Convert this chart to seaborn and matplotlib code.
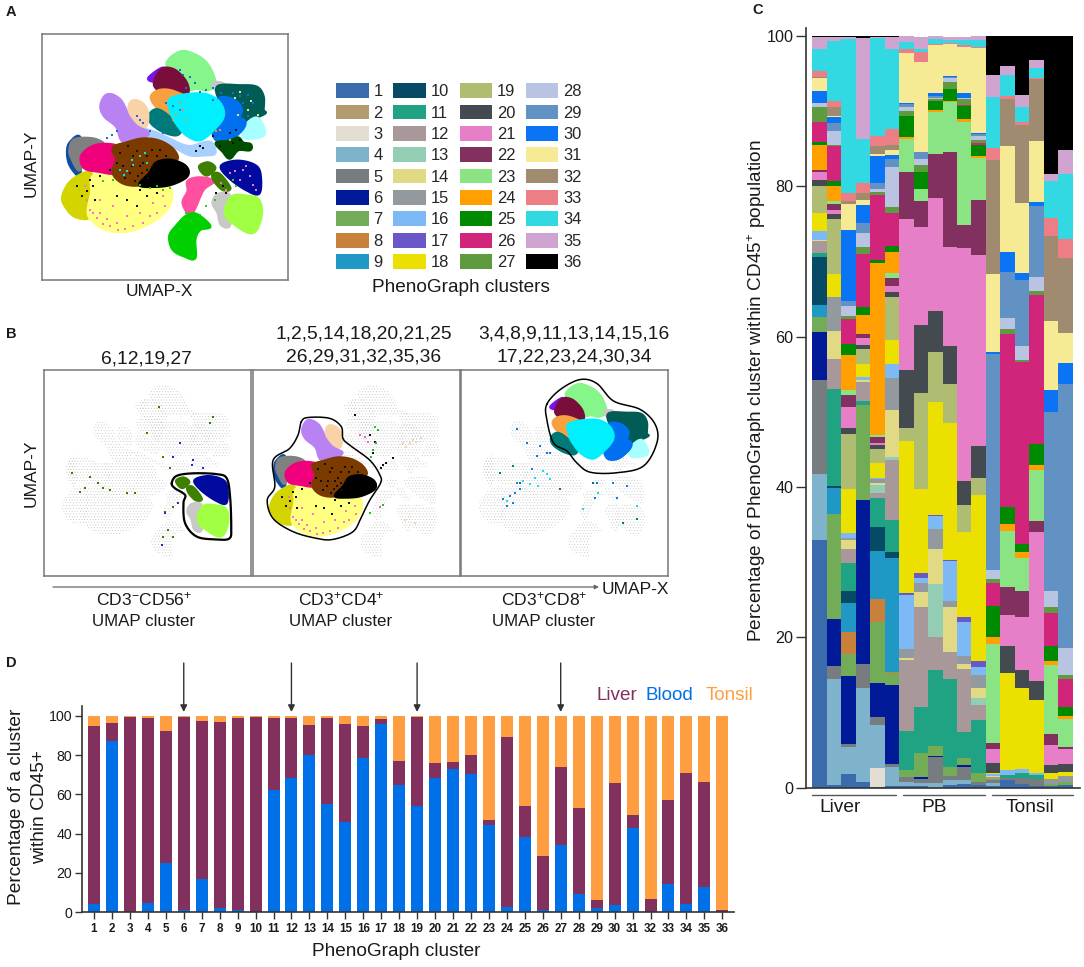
import numpy as np
import pandas as pd
import matplotlib
matplotlib.use('Agg')
import matplotlib.pyplot as plt
from matplotlib.patches import Patch
import seaborn as sns

sns.set_theme(style='ticks')
plt.rcParams['font.family'] = ['Liberation Sans', 'DejaVu Sans']
plt.rcParams['mathtext.fontset'] = 'custom'
plt.rcParams['mathtext.rm'] = 'Liberation Sans'
plt.rcParams['mathtext.default'] = 'regular'
plt.rcParams['hatch.linewidth'] = 0.3

W, H = 1084, 967
INK = '#1a1a1a'

# PhenoGraph cluster colours (legend + panel C)
cluster_ids = list(range(1, 37))
cluster_colors = ['#3A6BAC', '#B39B70', '#E3DED3', '#7FB3CB', '#777C80', '#011A98',
                  '#72AC57', '#C9803A', '#2098C6', '#064A66', '#1FA383', '#A8989A',
                  '#93CEB4', '#E2D985', '#929AA0', '#7DB9F5', '#6A57C8', '#EBE000',
                  '#AFBD72', '#444B50', '#E67FC8', '#813060', '#8BE484', '#FFA000',
                  '#008A00', '#D0257A', '#5E9A40', '#B9C4E2', '#6292C4', '#0A74F5',
                  '#F6EA94', '#A18B70', '#EC7E86', '#32D8E2', '#D0A4D0', '#000000']

# Panel C: upper edge (%) of each cluster's segment, one dict per sample
liver_1 = {1: 32.9, 4: 41.7, 5: 54.2, 6: 60.6, 7: 62.6, 9: 64.2, 10: 70.6, 11: 71.1, 12: 72.7, 14: 72.9,
           16: 74.0, 18: 76.5, 19: 80.0, 20: 80.8, 21: 81.95, 22: 82.2, 24: 85.5, 25: 85.9, 26: 88.6,
           27: 90.6, 28: 91.1, 30: 92.7, 31: 94.4, 32: 94.6, 33: 95.4, 34: 98.2, 35: 99.9, 36: 100}
liver_2 = {1: 0.3, 4: 14.5, 5: 16.2, 6: 22.5, 7: 36.4, 9: 39.9, 10: 40.2, 11: 53.1, 12: 57.0, 14: 60.8,
           15: 65.3, 18: 68.3, 19: 75.6, 20: 76.3, 21: 76.8, 22: 77.7, 23: 78.0, 24: 80.1, 25: 80.7,
           26: 85.3, 27: 85.5, 28: 87.3, 29: 88.4, 30: 89.2, 31: 89.4, 32: 90.5, 33: 91.4, 34: 99.3,
           35: 99.8, 36: 100}
liver_3 = {1: 1.8, 4: 5.4, 5: 5.8, 6: 14.9, 7: 17.8, 8: 20.7, 9: 24.6, 10: 26.2, 11: 29.9, 12: 31.8,
           14: 33.0, 15: 33.2, 16: 33.9, 18: 39.7, 19: 47.0, 20: 47.8, 21: 50.6, 22: 52.2, 23: 52.9,
           24: 57.6, 25: 59.0, 26: 62.3, 27: 62.75, 28: 64.1, 29: 64.7, 30: 74.2, 31: 77.7, 32: 78.1,
           33: 79.1, 34: 99.55, 35: 99.8, 36: 100}
liver_4 = {1: 0.7, 4: 13.3, 5: 16.5, 6: 38.3, 7: 50.9, 11: 51.5, 12: 54.0, 14: 54.3, 16: 54.6, 18: 56.3,
           19: 58.4, 20: 58.9, 21: 59.8, 22: 60.4, 24: 62.9, 25: 63.9, 26: 71.0, 27: 71.9, 28: 73.8,
           29: 75.1, 30: 77.5, 31: 78.2, 32: 79.1, 33: 80.4, 34: 86.25, 35: 99.7, 36: 100}
liver_5 = {1: 0.1, 3: 2.6, 4: 8.4, 5: 9.4, 6: 13.9, 7: 22.1, 8: 25.1, 9: 31.5, 10: 34.7, 11: 38.5,
           12: 39.2, 13: 40.3, 14: 40.5, 15: 41.1, 16: 41.2, 18: 43.2, 19: 45.0, 20: 45.6, 21: 45.9,
           22: 46.6, 23: 46.9, 24: 69.75, 25: 70.2, 26: 78.9, 27: 79.3, 28: 79.7, 29: 80.5, 30: 84.0,
           31: 84.3, 32: 85.3, 33: 86.65, 34: 99.7, 35: 99.9, 36: 100}
liver_6 = {1: 0.2, 4: 2.7, 5: 3.2, 6: 13.6, 7: 15.3, 8: 15.4, 9: 30.5, 10: 31.4, 11: 35.6, 12: 43.6,
           13: 44.0, 14: 50.2, 15: 54.5, 16: 56.3, 18: 59.6, 19: 65.3, 20: 65.9, 21: 66.8, 22: 67.8,
           23: 68.5, 24: 71.3, 25: 72.0, 26: 76.5, 27: 77.2, 28: 82.6, 29: 83.7, 30: 84.2, 31: 84.8,
           32: 85.5, 33: 87.6, 34: 98.3, 35: 99.9, 36: 100}
pb_1 = {1: 0.2, 4: 0.75, 5: 1.4, 7: 2.35, 11: 7.6, 12: 17.0, 14: 17.3, 15: 18.5, 16: 25.7, 17: 25.9,
        18: 46.1, 19: 47.9, 20: 55.5, 21: 75.6, 22: 81.9, 23: 86.25, 24: 86.6, 25: 89.4, 27: 90.0,
        28: 90.55, 29: 91.0, 30: 91.1, 31: 97.7, 33: 98.3, 34: 99.25, 35: 100}
pb_2 = {1: 0.2, 4: 0.6, 5: 1.1, 6: 1.4, 7: 4.65, 11: 10.8, 12: 24.0, 14: 26.0, 15: 27.2, 16: 27.9,
        17: 28.6, 18: 39.7, 19: 52.55, 20: 61.6, 21: 74.6, 22: 78.1, 23: 79.7, 25: 81.9, 27: 82.9,
        28: 83.7, 29: 84.6, 31: 96.6, 33: 97.9, 34: 98.2, 35: 99.8}
pb_3 = {4: 0.65, 5: 4.1, 6: 4.25, 7: 5.5, 11: 15.6, 12: 20.0, 13: 27.1, 14: 31.7, 15: 34.4, 16: 36.1,
        17: 36.3, 18: 51.3, 19: 57.9, 20: 63.4, 21: 78.4, 22: 84.3, 23: 89.9, 24: 90.1, 25: 91.3,
        27: 91.6, 28: 91.8, 29: 92.0, 30: 92.4, 31: 98.8, 33: 98.9, 34: 99.55, 35: 100}
pb_4 = {1: 0.35, 4: 1.0, 5: 1.5, 7: 2.8, 11: 14.5, 12: 18.1, 14: 24.0, 15: 24.9, 16: 30.1, 17: 30.3,
        18: 48.5, 19: 53.7, 20: 58.7, 21: 71.9, 22: 84.6, 23: 91.2, 24: 91.35, 25: 92.9, 26: 93.0,
        27: 93.9, 28: 94.4, 29: 94.55, 30: 94.7, 31: 98.9, 33: 99.0, 34: 99.4, 35: 99.9}
pb_5 = {1: 0.45, 4: 1.0, 5: 2.8, 6: 3.0, 7: 4.0, 11: 7.45, 12: 15.8, 14: 16.4, 15: 17.5, 16: 22.1,
        17: 22.7, 18: 34.05, 19: 37.6, 20: 40.8, 21: 71.8, 22: 74.85, 23: 88.6, 24: 88.9, 25: 90.65,
        26: 90.8, 27: 91.6, 28: 91.8, 30: 92.4, 31: 98.5, 33: 98.8, 34: 99.5, 35: 99.9}
pb_6 = {1: 0.35, 5: 0.8, 7: 1.9, 11: 8.95, 12: 11.0, 13: 11.9, 14: 13.2, 15: 15.0, 16: 16.0, 17: 16.8,
        18: 38.9, 19: 41.2, 20: 45.4, 21: 70.8, 22: 78.2, 23: 83.8, 24: 84.0, 25: 85.45, 26: 85.7,
        27: 86.1, 28: 86.7, 29: 86.9, 30: 87.1, 31: 98.35, 33: 98.5, 34: 99.5, 35: 100}
tonsil_1 = {1: 0.2, 4: 0.6, 5: 1.0, 7: 1.2, 12: 1.4, 14: 1.6, 16: 1.8, 18: 2.0, 20: 3.3, 21: 5.2, 22: 6.0,
            23: 19.1, 24: 20.0, 25: 24.2, 26: 27.2, 27: 27.7, 28: 28.9, 29: 57.65, 30: 57.9, 31: 68.3,
            32: 83.45, 33: 85.05, 34: 91.9, 35: 94.8, 36: 100}
tonsil_2 = {1: 1.0, 5: 1.3, 11: 1.7, 16: 2.35, 18: 15.2, 20: 18.8, 21: 23.0, 22: 26.7, 23: 34.15, 24: 35.1,
            25: 37.3, 26: 60.3, 27: 61.0, 28: 62.5, 29: 68.6, 30: 71.2, 31: 85.35, 32: 91.65, 33: 92.0,
            34: 94.8, 35: 96.05, 36: 100}
tonsil_3 = {1: 0.45, 5: 1.3, 11: 1.9, 16: 2.45, 18: 13.2, 20: 15.6, 21: 22.75, 22: 26.1, 23: 30.55, 24: 31.3,
            25: 32.4, 26: 56.6, 27: 56.9, 28: 58.7, 29: 67.6, 30: 68.5, 31: 77.75, 32: 88.2, 33: 88.5,
            34: 90.5, 35: 92.2, 36: 100}
tonsil_4 = {1: 0.25, 5: 1.1, 11: 1.7, 16: 1.9, 18: 11.6, 20: 14.2, 21: 34.05, 22: 35.5, 23: 42.2, 24: 42.9,
            25: 45.7, 26: 65.6, 27: 66.1, 28: 68.0, 29: 77.4, 30: 77.95, 31: 86.0, 32: 94.3, 33: 94.45,
            34: 95.8, 35: 96.8, 36: 100}
tonsil_5 = {1: 0.25, 7: 0.55, 15: 1.2, 18: 2.0, 20: 3.05, 21: 5.7, 22: 7.15, 23: 16.3, 24: 16.9, 25: 18.9,
            26: 23.3, 27: 24.0, 28: 26.1, 29: 50.0, 30: 52.85, 31: 62.1, 32: 73.4, 33: 75.75, 34: 80.7,
            35: 81.7, 36: 100}
tonsil_6 = {1: 0.35, 7: 0.8, 15: 1.5, 18: 2.1, 20: 3.2, 21: 5.1, 22: 5.45, 23: 9.1, 24: 9.5, 25: 10.8,
            26: 14.5, 27: 15.0, 28: 18.6, 29: 53.65, 30: 56.55, 31: 60.5, 32: 70.4, 33: 73.0, 34: 81.6,
            35: 84.8, 36: 100}
samples = [liver_1, liver_2, liver_3, liver_4, liver_5, liver_6,
           pb_1, pb_2, pb_3, pb_4, pb_5, pb_6,
           tonsil_1, tonsil_2, tonsil_3, tonsil_4, tonsil_5, tonsil_6]

# Panel D
blood_pct = [3.9, 87.1, 0, 4.8, 24.8, 1.0, 16.8, 2.2, 0.9, 0.2, 62.4, 68.4, 79.9, 55.1, 45.7, 78.6, 96.1, 65.0,
             53.9, 68.5, 72.8, 70.4, 44.4, 2.6, 38.4, 0.9, 34.4, 9.2, 2.2, 3.6, 42.9, 0, 14.1, 4.3, 12.8, 0]
liver_pct = [91.2, 9.3, 99.5, 94.3, 67.5, 98.7, 80.5, 94.9, 98.2, 99.1, 36.6, 30.4, 15.7, 43.9, 50.3, 16.1, 2.4, 12.2,
             45.8, 7.7, 3.9, 9.7, 2.5, 86.9, 15.9, 27.8, 39.4, 44.0, 4.1, 62.4, 6.4, 6.6, 43.0, 66.4, 53.7, 1.0]
tonsil_pct = [4.9, 3.6, 0.5, 0.9, 7.7, 0.3, 2.7, 2.9, 0.9, 0.7, 1.0, 1.2, 4.4, 1.0, 4.0, 5.3, 1.5, 22.8,
              0.3, 23.8, 23.3, 19.9, 53.1, 10.5, 45.7, 71.3, 26.2, 46.8, 93.7, 34.0, 50.7, 93.4, 42.9, 29.3, 33.5, 99.0]
tissue_colors = {'Liver': '#82305E', 'Blood': '#0070E8', 'Tonsil': '#FF9E40'}
arrow_clusters = [6, 12, 19, 27]

# UMAP regions: (colour, panel B group, outline)
umap_regions = [
    ('#86F58A', 3, [(502, 190), (520, 168), (550, 155), (585, 165), (615, 185), (635, 215), (645, 255), (620, 270), (590, 265), (560, 270), (530, 245), (510, 215)]),
    ('#7A12F0', 3, [(447, 235), (490, 205), (495, 240), (470, 245)]),
    ('#C8C8C8', 3, [(640, 250), (665, 250), (680, 262), (650, 270)]),
    ('#005C55', 3, [(655, 260), (720, 258), (770, 262), (790, 290), (790, 330), (795, 340), (760, 355), (720, 365), (690, 340), (660, 300)]),
    ('#7A0E3A', 3, [(465, 245), (480, 215), (500, 205), (530, 215), (560, 250), (560, 285), (510, 295), (470, 265)]),
    ('#F8A040', 3, [(455, 290), (480, 272), (520, 275), (560, 300), (540, 350), (530, 370), (510, 350), (470, 320)]),
    ('#007A78', 3, [(450, 345), (470, 330), (500, 345), (540, 385), (530, 405), (490, 395), (455, 370)]),
    ('#A8FFFF', 3, [(740, 375), (770, 355), (790, 380), (792, 405), (760, 415), (730, 410)]),
    ('#0070F0', 3, [(660, 295), (700, 300), (725, 330), (700, 370), (650, 370), (650, 320)]),
    ('#0070F0', 3, [(640, 380), (680, 355), (730, 360), (730, 385), (690, 420), (650, 420)]),
    ('#00F0FF', 3, [(510, 300), (560, 285), (620, 285), (660, 310), (670, 350), (640, 390), (600, 420), (560, 405), (530, 370), (515, 340)]),
    ('#A8D0FF', 0, [(430, 390), (470, 400), (560, 440), (610, 430), (635, 430), (645, 460), (615, 465), (570, 465), (520, 440), (460, 415)]),
    ('#004F00', 0, [(650, 430), (690, 425), (715, 415), (730, 430), (752, 435), (750, 450), (715, 450), (690, 475), (670, 455)]),
    ('#FAD2A8', 2, [(388, 320), (400, 303), (425, 310), (442, 335), (440, 375), (420, 380), (395, 355)]),
    ('#B982F2', 2, [(303, 320), (315, 290), (335, 285), (360, 300), (375, 325), (385, 350), (410, 380), (445, 400), (420, 420), (390, 430), (365, 420), (350, 380), (315, 350)]),
    ('#0B4EA2', 2, [(203, 460), (210, 430), (240, 415), (240, 520), (232, 525), (210, 495)]),
    ('#808080', 2, [(210, 450), (225, 420), (280, 418), (310, 435), (260, 445), (240, 510), (218, 480)]),
    ('#D4D400', 2, [(188, 595), (205, 555), (235, 530), (270, 520), (285, 560), (280, 620), (265, 655), (225, 650), (200, 625)]),
    ('#FFFF80', 2, [(280, 530), (340, 520), (420, 560), (500, 560), (515, 590), (500, 630), (450, 670), (380, 695), (320, 690), (285, 670), (265, 640), (275, 580)]),
    ('#F0007D', 2, [(245, 470), (280, 440), (330, 435), (365, 450), (360, 500), (340, 520), (300, 515), (255, 505)]),
    ('#7A3A00', 2, [(340, 445), (380, 430), (430, 418), (480, 425), (520, 450), (530, 480), (480, 490), (450, 530), (420, 555), (370, 550), (340, 520), (350, 480)]),
    ('#000000', 2, [(420, 555), (450, 520), (470, 490), (510, 482), (550, 495), (565, 515), (555, 535), (510, 555), (460, 560)]),
    ('#FF4FA0', 0, [(565, 545), (600, 535), (640, 545), (610, 570), (585, 625), (570, 645), (550, 610), (565, 575)]),
    ('#00D000', 0, [(510, 710), (530, 680), (560, 650), (590, 645), (630, 680), (600, 690), (585, 720), (585, 775), (555, 770), (520, 750)]),
    ('#3F7F00', 1, [(600, 500), (625, 490), (645, 505), (625, 525), (610, 520)]),
    ('#3F7F00', 1, [(640, 525), (660, 525), (690, 565), (670, 570), (645, 545)]),
    ('#000A9E', 1, [(665, 500), (710, 485), (760, 495), (780, 520), (778, 580), (740, 570), (690, 535)]),
    ('#C8C8C8', 1, [(640, 610), (655, 585), (690, 590), (690, 675), (665, 675), (655, 640)]),
    ('#A0FF40', 1, [(680, 620), (700, 590), (740, 590), (775, 600), (785, 640), (770, 690), (745, 698), (700, 670), (680, 650)]),
]
gate_1 = [(583, 510), (601, 483), (661, 474), (744, 477), (780, 492), (792, 558), (796, 665), (790, 707), (744, 711),
          (673, 701), (631, 653), (625, 582), (631, 552), (595, 528)]
gate_2 = [(299, 289), (323, 274), (400, 277), (442, 307), (448, 349), (472, 373), (544, 427), (580, 480), (582, 510),
          (544, 570), (514, 630), (484, 683), (412, 711), (353, 707), (269, 683), (198, 636), (177, 570), (204, 522),
          (198, 427), (257, 385), (287, 337)]
gate_3 = [(433, 227), (481, 174), (552, 138), (612, 152), (672, 215), (767, 245), (821, 299), (827, 365), (779, 448),
          (684, 472), (588, 470), (540, 436), (505, 394), (457, 365), (433, 281)]

# Stray cells, by colour
a_specks = {
    '#101010': [(385, 440), (400, 470), (420, 500), (370, 500), (440, 470), (455, 450), (350, 490), (390, 520), (415, 530),
                (440, 510), (360, 460), (480, 450), (500, 470), (330, 510), (300, 530), (280, 560), (260, 575), (285, 600),
                (245, 590), (270, 540), (230, 560), (410, 620), (380, 600), (350, 590), (440, 590), (420, 570), (470, 580),
                (405, 545), (425, 520), (445, 535), (460, 500), (395, 500), (375, 535), (430, 490), (470, 470), (410, 455),
                (600, 440), (590, 455), (610, 445), (640, 410), (690, 400), (710, 390), (720, 420), (700, 430), (660, 440),
                (670, 560), (650, 580), (680, 580)],
    '#10E0E0': [(420, 470), (435, 460), (380, 515), (372, 525), (400, 495), (440, 490), (395, 480), (360, 510)],
    '#FF70D0': [(290, 655), (310, 675), (330, 680), (355, 692), (375, 688), (400, 680), (430, 670), (450, 650), (470, 640),
                (495, 620), (280, 640), (320, 660), (350, 670), (300, 640), (420, 640), (270, 630), (260, 600), (255, 560),
                (300, 600), (340, 620), (460, 610), (490, 590), (380, 650), (705, 515), (730, 510), (750, 530), (720, 540),
                (760, 555), (740, 500), (690, 520), (770, 570), (680, 570), (665, 550)],
    '#20D020': [(420, 555), (450, 565), (490, 570), (510, 565), (470, 560), (340, 540), (310, 545), (540, 690), (560, 640),
                (575, 665), (600, 645), (645, 600), (620, 620), (700, 540), (710, 560)],
    '#1070E0': [(470, 380), (490, 400), (450, 395), (420, 360), (430, 370), (410, 350), (520, 320), (540, 330), (500, 310),
                (640, 300), (665, 280), (700, 280), (720, 330), (745, 350), (730, 310), (720, 290), (760, 310), (745, 285),
                (730, 365), (690, 385), (680, 400), (620, 270), (640, 265), (585, 250), (570, 230), (550, 225), (540, 210),
                (600, 275), (560, 265), (335, 405), (350, 395), (320, 415)],
    '#F89030': [(550, 330), (540, 310), (560, 360), (520, 360), (530, 345), (660, 390), (690, 420), (650, 395)],
    '#E8E890': [(705, 295), (720, 275), (755, 305), (745, 330), (775, 345), (715, 345)],
}

# Stray cells in panel B, read in a crop where each box starts at box_origin
box_origin = {1: (132, 178), 2: (-290, 178), 3: (333, 180)}
b_specks = {
    1: {'#3F7F00': [(240, 545), (255, 535), (270, 500), (295, 520), (310, 535), (330, 540), (215, 490), (380, 550), (405, 550),
                    (440, 370), (478, 290), (490, 440), (510, 475), (520, 590), (495, 605), (505, 660), (490, 680), (520, 680),
                    (640, 320), (630, 340)],
        '#2A2AC0': [(540, 400), (580, 450), (575, 465), (610, 475), (520, 440), (495, 610), (535, 580), (485, 705)]},
    2: {'#101010': [(100, 465), (110, 458), (95, 475), (15, 315), (60, 375), (70, 430), (75, 395), (130, 445)],
        '#20C020': [(75, 350), (70, 420), (80, 400), (65, 440), (85, 360), (100, 585), (60, 610)],
        '#F060C0': [(45, 380), (55, 395), (30, 375), (90, 590)],
        '#FAD2A8': [(160, 400), (180, 400), (200, 395), (215, 385), (170, 410), (190, 390), (195, 640), (165, 630)]},
    3: {'#1878E0': [(460, 570), (480, 560), (495, 550), (510, 540), (500, 520), (545, 480), (570, 410), (560, 440), (590, 430),
                    (600, 430), (530, 400), (500, 360), (470, 590), (490, 580), (740, 520), (790, 520), (830, 530), (735, 565),
                    (800, 565)],
        '#10E0E8': [(540, 525), (580, 485), (520, 515), (555, 505), (600, 510), (590, 495), (565, 530), (470, 575), (745, 550),
                    (860, 590), (700, 600)],
        '#007A78': [(510, 520), (490, 470), (450, 490), (630, 540), (860, 630), (820, 640), (730, 520)]},
}


def axes_px(fig, left, top, right, bottom):
    return fig.add_axes([left / W, 1 - bottom / H, (right - left) / W, (bottom - top) / H])


def smooth(points, n=10):
    # closed Catmull-Rom through the traced outline points
    p = np.array(points, dtype=float)
    t = np.linspace(0, 1, n, endpoint=False)[:, None]
    out = []
    for i in range(len(p)):
        p0, p1, p2, p3 = p[i - 1], p[i], p[(i + 1) % len(p)], p[(i + 2) % len(p)]
        out.append(0.5 * (2 * p1 + (p2 - p0) * t + (2 * p0 - 5 * p1 + 4 * p2 - p3) * t ** 2
                          + (3 * p1 - p0 - 3 * p2 + p3) * t ** 3))
    return np.vstack(out)


def umap_axes(left, top, size):
    ax = axes_px(fig, left, top, left + size, top + size)
    ax.set_xlim(126, 865)
    ax.set_ylim(842, 102)
    ax.set_xticks([])
    ax.set_yticks([])
    for s in ax.spines.values():
        s.set_color('#777777')
        s.set_linewidth(1.1)
    return ax


def draw_specks(ax, points, color, size=2.2):
    pts = pd.DataFrame(points, columns=['x', 'y'])
    sns.scatterplot(data=pts, x='x', y='y', color=color, s=size, marker='s', linewidth=0, ax=ax, legend=False)
    ax.set_xlabel('')
    ax.set_ylabel('')


fig = plt.figure(figsize=(W / 100, H / 100), dpi=100)

# ---- panel A ----
ax_a = umap_axes(42, 34, 246)
for color, group, outline in umap_regions:
    pts = smooth(outline)
    ax_a.fill(pts[:, 0], pts[:, 1], facecolor=color, edgecolor=color, lw=2.5)
for color, points in a_specks.items():
    draw_specks(ax_a, points, color)

# ---- panel B ----
gates = {1: gate_1, 2: gate_2, 3: gate_3}
lefts = {1: 44, 2: 253, 3: 461}
crop_scale = 739 / 619
for group in (1, 2, 3):
    ax_b = umap_axes(lefts[group], 369.5, 206.5)
    for color, g, outline in umap_regions:
        if g != group:
            pts = smooth(outline)
            ax_b.fill(pts[:, 0], pts[:, 1], facecolor='none', edgecolor='#c4c4c4', hatch='......', lw=0)
    for color, points in b_specks[group].items():
        ox, oy = box_origin[group]
        moved = [(126 + (x - ox) * crop_scale, 102 + (y - oy) * crop_scale) for x, y in points]
        draw_specks(ax_b, moved, color, size=1.8)
    for color, g, outline in umap_regions:
        if g == group:
            pts = smooth(outline)
            ax_b.fill(pts[:, 0], pts[:, 1], facecolor=color, edgecolor=color, lw=2)
    if group == 2:
        draw_specks(ax_b, a_specks['#101010'][:36], '#101010', size=1.8)
        draw_specks(ax_b, a_specks['#FF70D0'][:23], '#FF70D0', size=1.8)
    gate = smooth(gates[group])
    gate = np.vstack([gate, gate[:1]])
    ax_b.plot(gate[:, 0], gate[:, 1], color='black', lw=1.6 if group == 1 else 1.1)
    ax_b.set_xlim(126, 865)
    ax_b.set_ylim(842, 102)

# ---- panel C ----
rows = []
for i, tops in enumerate(samples):
    prev = 0
    for cluster in sorted(tops):
        rows.append({'sample': i, 'cluster': cluster, 'pct': tops[cluster] - prev})
        prev = tops[cluster]
df_c = pd.DataFrame(rows)

ax_c = axes_px(fig, 806, 28, 1080, 787.7)
sns.histplot(df_c, x='sample', hue='cluster', weights='pct', multiple='stack', discrete=True, shrink=1,
             hue_order=cluster_ids[::-1], palette=dict(zip(cluster_ids, cluster_colors)),
             alpha=1, linewidth=0, legend=False, ax=ax_c)
ax_c.set_xlim(-0.935, 18.0)
ax_c.set_ylim(0, 101.06)
ax_c.set_xticks([])
ax_c.set_yticks([0, 20, 40, 60, 80, 100])
ax_c.set_xlabel('')
ax_c.set_ylabel('')
ax_c.tick_params(axis='y', labelsize=11.6, length=7, width=1, color='#333333', labelcolor=INK, pad=2)
sns.despine(ax=ax_c)
for s in ('left', 'bottom'):
    ax_c.spines[s].set_linewidth(1.2)
    ax_c.spines[s].set_color('#333333')

# ---- panel D ----
tissue_rows = {'Tonsil': tonsil_pct, 'Liver': liver_pct, 'Blood': blood_pct}
df_d = pd.concat([pd.DataFrame({'cluster': cluster_ids, 'tissue': k, 'pct': v}) for k, v in tissue_rows.items()])

ax_d = axes_px(fig, 82, 706, 734, 912)
sns.histplot(df_d, x='cluster', hue='tissue', weights='pct', multiple='stack', discrete=True, shrink=0.668,
             hue_order=['Tonsil', 'Liver', 'Blood'], palette=tissue_colors,
             alpha=1, linewidth=0, legend=False, ax=ax_d)
ax_d.set_xlim(0.332, 36.65)
ax_d.set_ylim(0, 105.1)
ax_d.set_xticks(cluster_ids)
ax_d.set_yticks([0, 20, 40, 60, 80, 100])
ax_d.set_xlabel('')
ax_d.set_ylabel('')
ax_d.tick_params(axis='y', labelsize=10.2, length=5, width=1, color='#333333', labelcolor=INK, pad=2)
ax_d.tick_params(axis='x', labelsize=8.4, length=5, width=1, color='#333333', labelcolor=INK, pad=3)
for lab in ax_d.get_xticklabels():
    lab.set_fontweight('bold')
sns.despine(ax=ax_d)
for s in ('left', 'bottom'):
    ax_d.spines[s].set_linewidth(1.2)
    ax_d.spines[s].set_color('#333333')

# ---- cluster legend ----
handles = [Patch(facecolor=c, edgecolor='none', label=str(i)) for i, c in zip(cluster_ids, cluster_colors)]
fig.legend(handles=handles, ncol=4, loc='upper left', bbox_to_anchor=(333 / W, 1 - 80 / H), frameon=False,
           fontsize=11.9, handlelength=1.95, handleheight=1.0, handletextpad=0.3, labelspacing=0.32,
           columnspacing=0.65, borderpad=0.2, borderaxespad=0)

# ---- all loose text in pixel coordinates ----
ov = fig.add_axes([0, 0, 1, 1], zorder=10)
ov.set_xlim(0, W)
ov.set_ylim(H, 0)
ov.axis('off')
ov.patch.set_alpha(0)


def txt(x, y, s, size=12.2, **kw):
    kw.setdefault('ha', 'center')
    kw.setdefault('va', 'center')
    ov.text(x, y, s, fontsize=size, color=kw.pop('color', INK), **kw)


for lab, x, y in [('A', 11, 12), ('B', 11, 334), ('C', 758, 10), ('D', 11, 663)]:
    txt(x, y, lab, size=10.5, fontweight='bold')

txt(159, 292, 'UMAP-X', size=12.5)
txt(31, 163, 'UMAP-Y', size=12.5, rotation=90)
txt(461, 287, 'PhenoGraph clusters', size=13.7)

txt(146, 359, '6,12,19,27', size=13.9)
txt(364, 334, '1,2,5,14,18,20,21,25', size=13.9)
txt(364, 357, '26,29,31,32,35,36', size=13.9)
txt(574, 334, '3,4,8,9,11,13,14,15,16', size=13.9)
txt(574, 357, '17,22,23,24,30,34', size=13.9)
txt(31, 473, 'UMAP-Y', size=12.5, rotation=90)
ov.annotate('', xy=(599, 587), xytext=(53, 587),
            arrowprops=dict(arrowstyle='-|>', color='#666666', lw=0.9, mutation_scale=6, shrinkA=0, shrinkB=0))
txt(635, 589, 'UMAP-X', size=12.5)
txt(144, 599, 'CD3$^{-}$CD56$^{+}$', size=12.6)
txt(144, 621, 'UMAP cluster')
txt(341, 599, 'CD3$^{+}$CD4$^{+}$', size=12.6)
txt(341, 621, 'UMAP cluster')
txt(544, 599, 'CD3$^{+}$CD8$^{+}$', size=12.6)
txt(544, 621, 'UMAP cluster')

# panel C group brackets + axis title
txt(757, 391, 'Percentage of PhenoGraph cluster within CD45$^{+}$ population', size=13.7, rotation=90)
for x0, x1, name, xc in [(812, 896, 'Liver', 840), (903, 985, 'PB', 934), (992, 1073, 'Tonsil', 1030)]:
    ov.plot([x0, x1], [794.5, 794.5], color='#555555', lw=1)
    txt(xc, 807, name, size=13.8)

# panel D annotations
txt(28, 807, 'Percentage of a cluster\nwithin CD45+', size=13.8, rotation=90, linespacing=1.42)
txt(396, 952, 'PhenoGraph cluster', size=13.7)
txt(617, 696, 'Liver', color=tissue_colors['Liver'], size=13.6)
txt(669, 696, 'Blood', color=tissue_colors['Blood'], size=13.6)
txt(730, 696, 'Tonsil', color=tissue_colors['Tonsil'], size=13.6)
for c in arrow_clusters:
    x = 94 + (c - 1) * 17.95
    ov.annotate('', xy=(x, 712), xytext=(x, 663),
                arrowprops=dict(arrowstyle='-|>', color='#333333', lw=1, mutation_scale=10, shrinkA=0, shrinkB=0))

fig.savefig('out.png', dpi=100)
